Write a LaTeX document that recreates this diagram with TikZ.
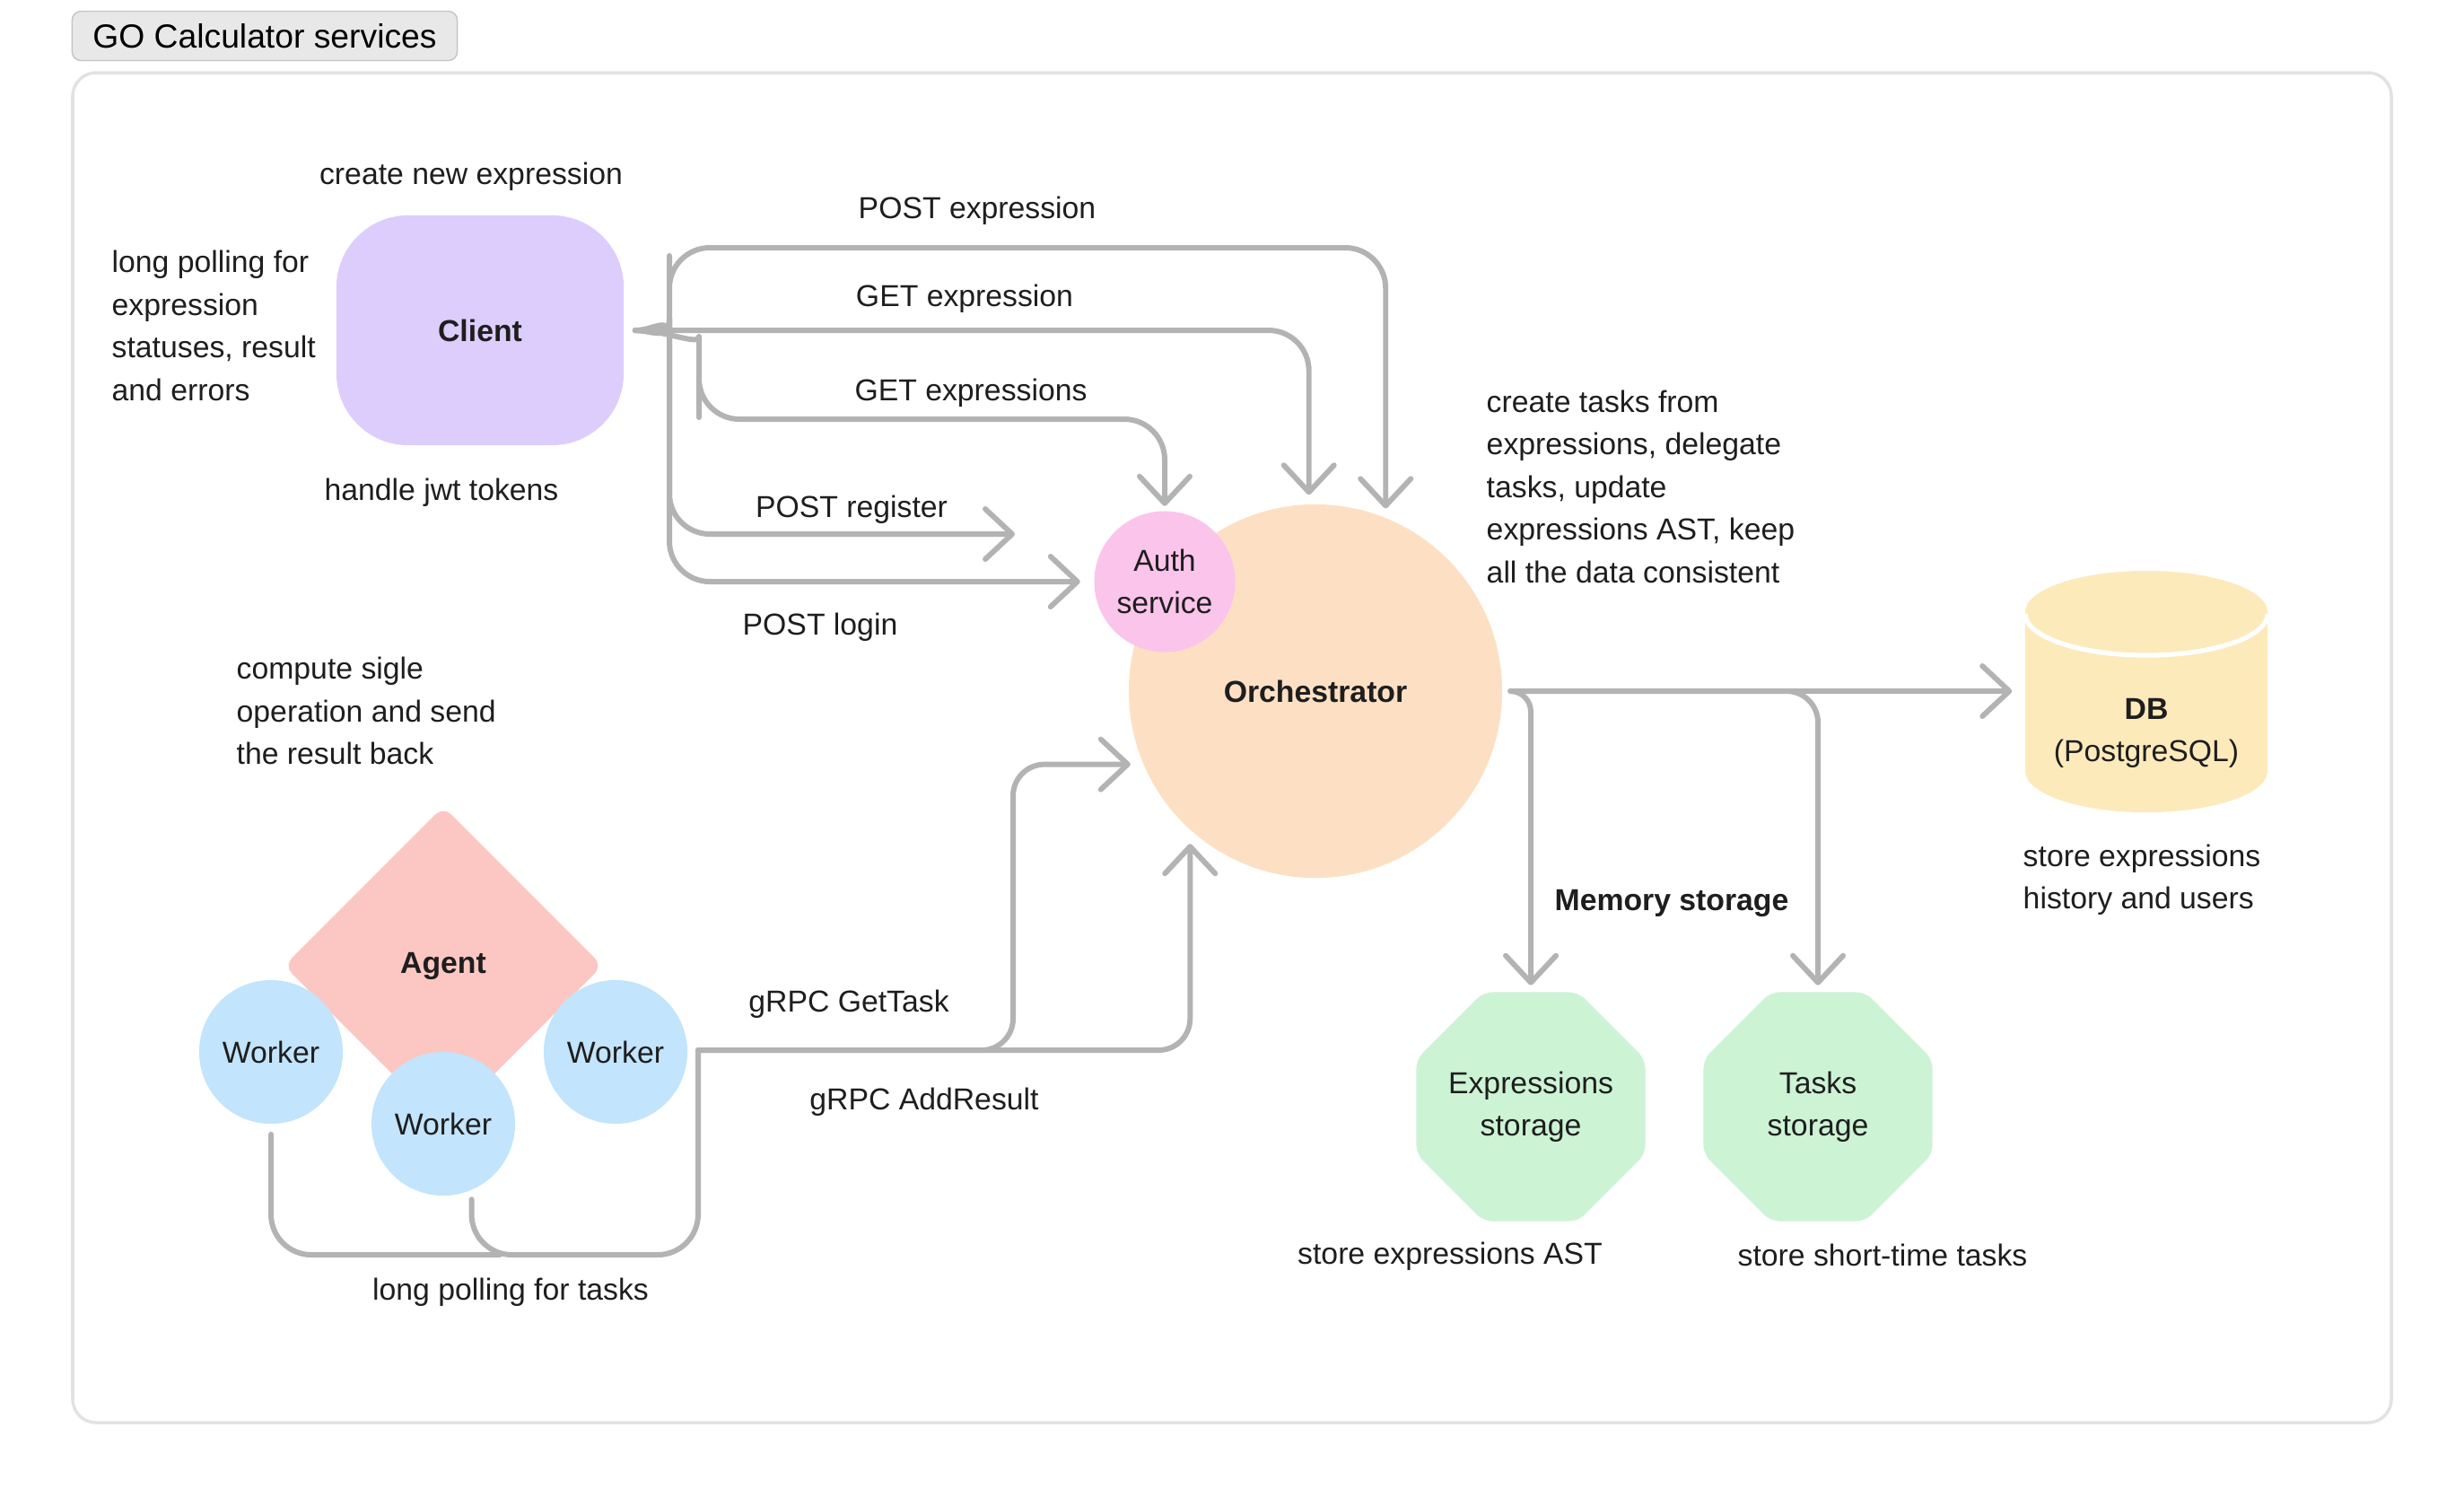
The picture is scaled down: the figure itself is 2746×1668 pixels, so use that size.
\documentclass[tikz,border=0pt]{standalone}
\usepackage{fontspec}
\setmainfont{Liberation Sans}
\usetikzlibrary{positioning, arrows.meta, shapes.geometric}
\definecolor{ink}{RGB}{30,30,30}
\definecolor{wire}{RGB}{179,179,179}
\definecolor{frameline}{RGB}{226,226,226}
\definecolor{titlefill}{RGB}{232,232,232}
\definecolor{titleline}{RGB}{196,196,196}
\definecolor{clientfill}{RGB}{221,205,252}
\definecolor{authfill}{RGB}{251,196,235}
\definecolor{orchfill}{RGB}{253,224,196}
\definecolor{dbfill}{RGB}{253,234,187}
\definecolor{agentfill}{RGB}{252,199,194}
\definecolor{workerfill}{RGB}{194,228,252}
\definecolor{storefill}{RGB}{205,243,213}

\begin{document}
\begin{tikzpicture}[x=0.01cm, y=-0.01cm,
    every node/.style={font=\fontsize{9.6}{13.5}\selectfont, align=center, text=ink},
    note/.style={anchor=west, align=left, inner sep=0pt},
    worker/.style={circle, fill=workerfill, minimum size=1.6cm, inner sep=0pt},
    store/.style={regular polygon, regular polygon sides=8, fill=storefill, minimum size=2.76cm, inner sep=-0.2cm, rounded corners=0.1cm},
    pipe/.style={draw=wire, line width=1.7pt, line cap=round, line join=round, rounded corners=0.45cm},
    link/.style={pipe, -{Straight Barb[length=3mm, width=5.6mm, round]}}]
    \useasboundingbox (0,0) rectangle (2746,1668);
    \draw[frameline, line width=1pt, rounded corners=0.26cm] (81,81) rectangle (2665,1585);
    \node[draw=titleline, fill=titlefill, rounded corners=0.1cm, minimum width=4.29cm, minimum height=0.55cm, font=\fontsize{10.6}{13}\selectfont, text=black] (title) at (295,40) {GO Calculator services};

    \node[fill=clientfill, rounded corners=0.8cm, minimum width=3.2cm, minimum height=2.56cm] (client) at (535,368) {\textbf{Client}};
    \node[circle, fill=orchfill, minimum size=4.16cm] (orch) at (1466,770) {\textbf{Orchestrator}};
    \node[circle, fill=authfill, minimum size=1.57cm, inner sep=0pt] (auth) at (1298,648) {Auth\\service};
    \fill[dbfill] (2257,682) rectangle (2527,859);
    \fill[dbfill] (2392,859) ellipse[x radius=1.35cm, y radius=0.46cm];
    \fill[dbfill] (2392,682) ellipse[x radius=1.35cm, y radius=0.46cm];
    \draw[white, line width=1.5pt] (2257,684) arc[start angle=180, end angle=360, x radius=1.35cm, y radius=0.46cm];
    \node[minimum width=2.7cm, minimum height=1cm] (db) at (2392,817) {\textbf{DB}\\(PostgreSQL)};
    \node[store] (exst) at (1706,1233) {Expressions\\storage};
    \node[store] (tsst) at (2026,1233) {Tasks\\storage};
    \node[diamond, fill=agentfill, minimum width=3.55cm, minimum height=3.55cm, rounded corners=0.12cm] (agent) at (494,1076) {\textbf{Agent}};
    \node[worker] (w1) at (302,1172) {Worker};
    \node[worker] (w2) at (494,1252) {Worker};
    \node[worker] (w3) at (686,1172) {Worker};

    \node (newexpr) at (525,197) {create new expression};
    \node[note] (clientpoll) at (124,363) {long polling for\\expression\\statuses, result\\and errors};
    \node (jwt) at (492,549) {handle jwt tokens};
    \node[note] (orchnote) at (1656,542) {create tasks from\\expressions, delegate\\tasks, update\\expressions AST, keep\\all the data consistent};
    \node[note] (dbnote) at (2254,980) {store expressions\\history and users};
    \node (memory) at (1863,1006) {\textbf{Memory storage}};
    \node (exnote) at (1616,1400) {store expressions AST};
    \node (tsnote) at (2098,1398) {store short-time tasks};
    \node[note] (agentnote) at (263,792) {compute sigle\\operation and send\\the result back};

    \node (postexpr) at (1089,235) {POST expression};
    \node (getexpr) at (1075,333) {GET expression};
    \node (getexprs) at (1082,438) {GET expressions};
    \node (postreg) at (949,568) {POST register};
    \node (postlogin) at (914,699) {POST login};
    \node (gettask) at (946,1119) {gRPC GetTask};
    \node (addresult) at (1030,1228) {gRPC AddResult};
    \node (taskpoll) at (569,1440) {long polling for tasks};

    \coordinate (cl) at ([xshift=0.12cm]client.east);
    \coordinate (regtip) at (1131,595);
    \coordinate (oe) at ([xshift=0.09cm]orch.east);
    \coordinate (w1end) at (557,1398);
    \coordinate (poll) at (778,1170);

    \draw[link, shorten >=0.1cm] (cl) to[out=0, in=-90] (746,330) -- (746,276) -| (orch.68);
    \draw[link, shorten >=0.1cm] (cl) -| (orch.92);
    \draw[link, shorten >=0.05cm] (cl) to[out=0, in=90] (779,420) -- (779,467) -| (auth.north);
    \draw[link] (cl) to[out=0, in=90] (746,400) |- (regtip);
    \draw[link, shorten >=0.15cm] (cl) to[out=0, in=90] (746,400) |- (auth.west);

    \draw[link, shorten >=0.14cm] (oe) -- (oe -| db.west);
    \draw[link, rounded corners=0.23cm, shorten >=0.07cm] (oe) -| (exst.north);
    \draw[link, rounded corners=0.35cm, shorten >=0.07cm] (oe) -| (tsst.north);

    \draw[pipe] ([yshift=-0.11cm]w1.south) |- (w1end);
    \draw[pipe] ([yshift=-0.1cm]w2.-67) |- (poll |- w1end) -- (poll);
    \draw[link, rounded corners=0.35cm, shorten >=0.14cm] (poll) -- (1129,1170) |- (orch.203.5);
    \draw[link, rounded corners=0.35cm, shorten >=0.15cm] (poll) -| (orch.228);
  \end{tikzpicture}
\end{document}
